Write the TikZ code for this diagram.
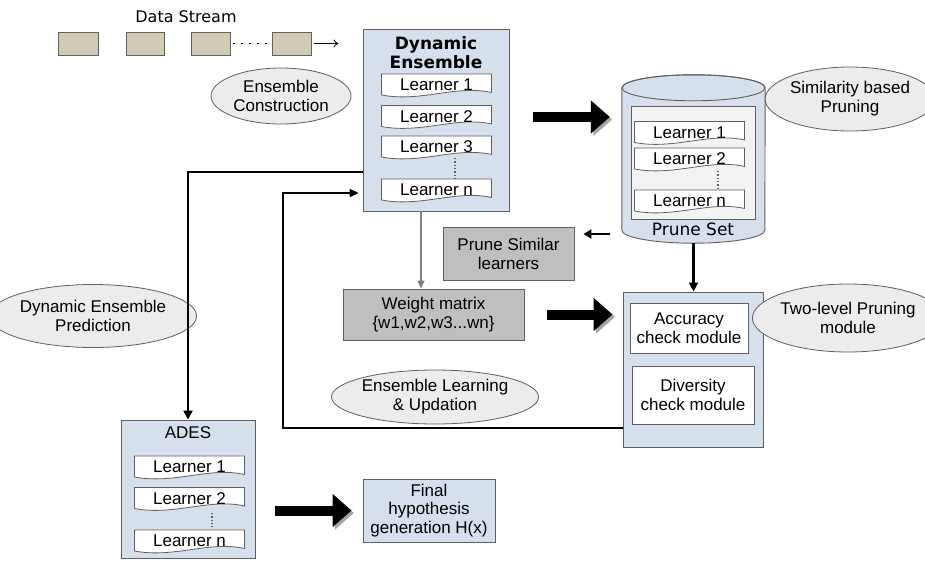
\documentclass[tikz,border=0pt]{standalone}
\usepackage{fontspec}
\setmainfont{Liberation Sans}
\newfontfamily\dvfont{DejaVu Sans}
\usetikzlibrary{shapes.geometric,arrows.meta,calc}
\definecolor{lblue}{RGB}{214,223,236}
\definecolor{bgray}{RGB}{191,191,191}
\definecolor{egray}{RGB}{236,236,236}
\definecolor{edgec}{RGB}{95,95,95}
\definecolor{dfill}{RGB}{207,203,180}
\definecolor{igray}{RGB}{243,243,243}
\newcommand\fs{\fontsize{17}{19}\selectfont}
\newcommand\lrn[4]{%
  \filldraw[edgec, fill=white, line width=0.8pt]
    ({#2-55},{#3+10.5}) -- ({#2-55},{#3-10.5}) -- ({#2+55},{#3-10.5}) -- ({#2+55},{#3+8})
    .. controls ({#2+20},{#3}) and ({#2-15},{#3+18}) .. ({#2-55},{#3+10.5}) -- cycle;
  \node[lrnnode] (#1) at (#2,{#3+0.5}) {#4};%
}
\begin{document}
\begin{tikzpicture}[x=1pt,y=-1pt,
  lrnnode/.style={inner sep=0pt, font=\fs},
  databox/.style={draw=edgec, fill=dfill, line width=0.9pt, minimum height=23pt, inner sep=0pt},
  panel/.style={draw=edgec, fill=lblue, line width=0.9pt, inner sep=0pt},
  wbox/.style={draw=edgec, fill=white, line width=0.9pt, inner sep=0pt, align=center, font=\fs},
  gbox/.style={draw=edgec, fill=bgray, line width=0.9pt, inner sep=0pt, align=center, font=\fs},
  ell/.style={ellipse, draw=edgec, fill=egray, line width=0.8pt, inner sep=0pt, align=center, font=\fs},
  bigarrow/.style={line width=10pt, -{Triangle[length=19pt,width=32pt]},
    preaction={draw=black!35, transform canvas={shift={(2.5pt,-2.5pt)}}}},
  conn/.style={line width=2.5pt, -{Triangle[length=9pt,width=9pt]}},
  fb/.style={line width=2pt, -{Triangle[length=9pt,width=8pt]}},
  grayarr/.style={draw=gray, line width=1.2pt, -{Triangle[length=8pt,width=7pt]}, gray},
  dots/.style={dotted, line width=1.3pt, edgec}
]
\useasboundingbox (0,0) rectangle (925,560);
\fill[white] (0,0) rectangle (925,560);

% data stream
\node[font=\dvfont\fontsize{16}{18}\selectfont] (dst) at (186,17) {Data Stream};
\node[databox, minimum width=40pt] (d1) at (78,43.5) {};
\node[databox, minimum width=38pt] (d2) at (145,43.5) {};
\node[databox, minimum width=39pt] (d3) at (210.5,43.5) {};
\node[databox, minimum width=39pt] (d4) at (291.5,43.5) {};
\draw[line width=1.3pt, dash pattern=on 2pt off 6pt] ([xshift=3pt]d3.east) -- (d4.west);
\draw[line width=0.8pt, -{To[length=5pt,width=8pt]}] ([xshift=3pt]d4.east) -- ++(24,0);

% Dynamic Ensemble
\node[panel, minimum width=146pt, minimum height=182pt] (de) at (436,120) {};
\node[font=\dvfont\bfseries\fontsize{17}{19}\selectfont, align=center] (det) at (436,52.5) {Dynamic\\Ensemble};
\lrn{l1}{436.5}{84.5}{Learner 1}
\lrn{l2}{436.5}{116}{Learner 2}
\lrn{l3}{436.5}{146.5}{Learner 3}
\lrn{ln}{436.5}{189.5}{Learner n}
\draw[dots] (455,158) -- (455,178);

\node[ell, minimum width=140pt, minimum height=56pt] (ec) at (281,96) {Ensemble\\Construction};

% Prune set cylinder
\node[minimum width=143pt, minimum height=168pt, inner sep=0pt] (ps) at (693.5,159) {};
\filldraw[draw=edgec, fill=lblue, line width=0.9pt]
  ($(ps.north west)+(0,13)$) -- ($(ps.south west)+(0,-13)$)
  arc[start angle=180, end angle=0, x radius=71.5, y radius=13]
  -- ($(ps.north east)+(0,13)$)
  arc[start angle=0, end angle=-180, x radius=71.5, y radius=13] -- cycle;
\draw[edgec, line width=0.9pt] ($(ps.north)+(0,13)$) ellipse[x radius=71.5, y radius=13];
\node[draw=edgec, fill=igray, line width=0.9pt, minimum width=124pt, minimum height=113pt, inner sep=0pt] (psi) at (693,162.5) {};
\lrn{p1}{689.5}{132}{Learner 1}
\lrn{p2}{689.5}{158.5}{Learner 2}
\lrn{pn}{689.5}{200.5}{Learner n}
\draw[dots] (718,171) -- (718,188);
\node[font=\dvfont\fontsize{17}{19}\selectfont] (pst) at (693,229) {Prune Set};

\node[ell, minimum width=152pt, minimum height=64pt] (sp) at (850,99) {Similarity based\\Pruning};

% gray boxes
\node[gbox, minimum width=131pt, minimum height=53pt] (psl) at (508.5,253.5) {Prune Similar\\learners};
\node[gbox, minimum width=181pt, minimum height=51pt] (wm) at (433.5,314.5) {Weight matrix\\\{w1,w2,w3...wn\}};

% two-level pruning
\node[panel, minimum width=140pt, minimum height=155pt] (tl) at (693,369.5) {};
\node[wbox, minimum width=118pt, minimum height=50pt] (acc) at (689,328) {Accuracy\\check module};
\node[wbox, minimum width=122pt, minimum height=58pt] (div) at (693,395) {Diversity\\check module};
\node[ell, minimum width=154pt, minimum height=68pt] (tp) at (848,318) {Two-level Pruning\\module};

\node[ell, minimum width=172pt, minimum height=54pt] (el) at (435,397) {Ensemble Learning\\\& Updation};
\node[ell, minimum width=164pt, minimum height=63pt] (dp) at (93,316) {Dynamic Ensemble\\Prediction};

% ADES
\node[panel, minimum width=134pt, minimum height=138pt] (ades) at (188,489) {};
\node[font=\fs] (adt) at (188,433) {ADES};
\lrn{a1}{189.5}{466.5}{Learner 1}
\lrn{a2}{189.5}{498}{Learner 2}
\lrn{an}{189.5}{540.5}{Learner n}
\draw[dots] (212,513) -- (212,527);

\node[panel, minimum width=132pt, minimum height=63pt, align=center, font=\fontsize{17}{18.5}\selectfont] (fin) at (429,510.5) {Final\\hypothesis\\generation H(x)};

% connectors
\draw[bigarrow] ($(de.east)+(24,-3)$) -- ($(de.east -| ps.west)+(-12,-3)$);
\draw[bigarrow] ($(wm.east)+(23,0)$) -- ($(wm.east -| tl.west)+(-10,0)$);
\draw[bigarrow] ($(fin.west -| ades.east)+(20,0)$) -- ($(fin.west)+(-11,0)$);

\draw[conn] ([yshift=-52pt]de.west) -| (ades.north);
\coordinate (fbc) at (283,428);
\draw[fb] ([yshift=-58.5pt]tl.west) -- (fbc) |- ([xshift=-4pt,yshift=-73pt]de.west);
\draw[grayarr] ([xshift=-15pt]de.south) -- ([xshift=-15pt]de.south |- wm.north);
\draw[line width=2.5pt, -{Triangle[length=8pt,width=9pt]}] ([shift={(36pt,19.5pt)}]psl.east) -- ([shift={(9pt,19.5pt)}]psl.east);
\draw[line width=2.5pt, -{Triangle[length=9pt,width=9pt]}] (ps.south) -- (ps.south |- tl.north);
\end{tikzpicture}
\end{document}
